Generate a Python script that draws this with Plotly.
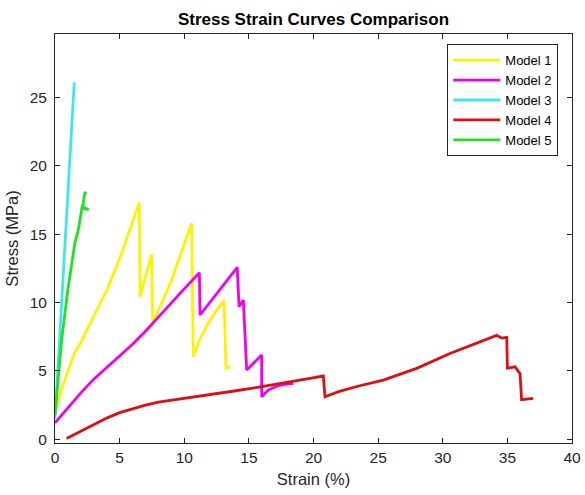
import plotly.graph_objects as go

# ---------------- data ----------------
model1_strain = [0.1, 0.5, 1.0, 1.5, 2.0, 2.5, 3.0, 4.0, 5.0, 6.0, 6.52,
                 6.58, 7.48, 7.56, 9.0, 10.57, 10.7, 11.2, 11.8, 12.4, 13.08,
                 13.23, 13.54]
model1_stress = [2.3, 3.6, 5.0, 6.3, 7.1, 8.0, 9.0, 10.9, 13.2, 15.9, 17.3,
                 10.42, 13.55, 8.48, 11.6, 15.79, 6.04, 7.3, 8.4, 9.3, 10.13,
                 5.19, 5.3]

model2_strain = [0.0, 1.0, 2.0, 3.0, 4.0, 5.0, 6.0, 7.0, 8.0, 9.0, 10.0, 11.17,
                 11.22, 14.1, 14.24, 14.57, 14.83, 15.99, 15.99, 16.5, 17.2,
                 17.8, 18.44]
model2_stress = [1.2, 2.3, 3.4, 4.4, 5.25, 6.1, 6.95, 7.9, 8.95, 9.95, 11.0,
                 12.18, 9.09, 12.57, 9.7, 10.18, 5.07, 6.16, 3.11, 3.6, 3.9,
                 4.02, 4.09]

model3_strain = [0.0, 0.4, 0.77, 1.1, 1.49]
model3_stress = [1.5, 8.2, 15.0, 20.2, 26.1]

model4_strain = [0.9, 2.0, 3.0, 4.0, 5.0, 6.0, 7.0, 8.0, 9.0, 10.0, 12.0, 14.0,
                 16.0, 18.0, 19.73, 20.76, 20.89, 22.0, 23.5, 25.4, 27.98,
                 30.56, 33.14, 34.17, 34.56, 34.95, 35.0, 35.6, 35.98, 36.1,
                 37.0]
model4_stress = [0.05, 0.6, 1.1, 1.55, 1.95, 2.25, 2.5, 2.72, 2.85, 2.98, 3.25,
                 3.55, 3.85, 4.15, 4.46, 4.63, 3.11, 3.5, 3.9, 4.33, 5.19,
                 6.28, 7.26, 7.6, 7.4, 7.45, 5.2, 5.3, 4.8, 2.9, 3.0]

model5_strain = [0.0, 0.52, 1.0, 1.55, 1.8, 2.0, 2.1, 2.6, 2.15, 2.2, 2.32, 2.38]
model5_stress = [1.8, 7.3, 11.0, 14.4, 15.3, 16.6, 17.0, 16.8, 16.9, 17.4, 18.1, 17.9]

series_names = ["Model 1", "Model 2", "Model 3", "Model 4", "Model 5"]
series_colors = ["#FFF200", "#F000F0", "#3FE6F2", "#DC1010", "#22E022"]

x_ticks = [0, 5, 10, 15, 20, 25, 30, 35, 40]
y_ticks = [0, 5, 10, 15, 20, 25]

# ---------------- figure ----------------
xs = [model1_strain, model2_strain, model3_strain, model4_strain, model5_strain]
ys = [model1_stress, model2_stress, model3_stress, model4_stress, model5_stress]

fig = go.Figure()
for name, color, x, y in zip(series_names, series_colors, xs, ys):
    fig.add_trace(go.Scatter(x=x, y=y, mode="lines", name=name,
                             line=dict(color=color, width=2.8)))

axis_color = "#262626"
font_family = "Liberation Sans, Arial, sans-serif"

fig.update_layout(
    width=585, height=495,
    margin=dict(l=55, r=13, t=34, b=52, pad=0, autoexpand=False),
    paper_bgcolor="white", plot_bgcolor="white",
    font=dict(family=font_family, size=14, color=axis_color),
    title=dict(text="<b>Stress Strain Curves Comparison</b>",
               x=(55 + 572) / 2 / 585, xanchor="center",
               y=1 - 19 / 495, yanchor="middle",
               font=dict(size=17, color="black", family=font_family)),
    showlegend=True,
    legend=dict(x=0.9735, y=0.975, xanchor="right", yanchor="top",
                bgcolor="white", bordercolor=axis_color, borderwidth=1,
                font=dict(size=13, color="black"),
                itemwidth=47, tracegroupgap=0),
)

fig.update_xaxes(range=[0, 40], tickvals=x_ticks, ticks="inside", ticklen=5,
                 tickcolor=axis_color, showline=True, linecolor=axis_color,
                 linewidth=1, mirror="ticks", showgrid=False, zeroline=False,
                 automargin=False,
                 tickfont=dict(size=15.5, color=axis_color),
                 title=dict(text="Strain (%)", standoff=8,
                            font=dict(size=16.5, color=axis_color)))
fig.update_yaxes(range=[-0.27, 29.64], tickvals=y_ticks, ticks="inside",
                 ticklen=5, tickcolor=axis_color, showline=True,
                 linecolor=axis_color, linewidth=1, mirror="ticks",
                 showgrid=False, zeroline=False, ticklabelstandoff=4,
                 automargin=False,
                 tickfont=dict(size=15.5, color=axis_color),
                 title=dict(text="Stress (MPa)", standoff=6,
                            font=dict(size=16.5, color=axis_color)))

fig.write_html("out.html",
               config={"displayModeBar": False},
               post_script="document.body.style.margin='0';"
                           "document.body.style.overflow='hidden';")
